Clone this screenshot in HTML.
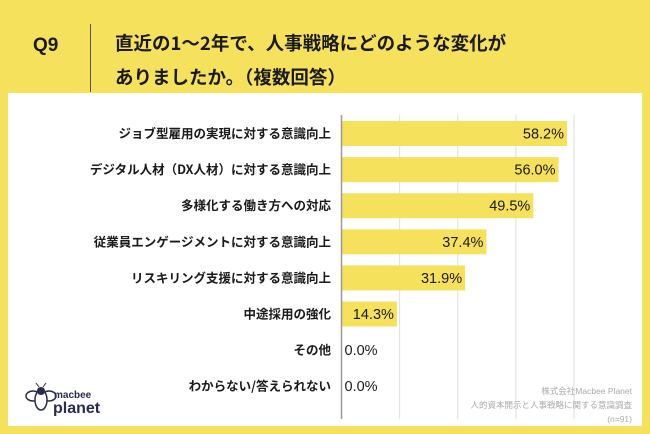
<!DOCTYPE html>
<html><head><meta charset="utf-8">
<style>
html,body{margin:0;padding:0}
body{width:650px;height:434px;background:#f6e15c;position:relative;overflow:hidden;font-family:"Liberation Sans","Noto Sans CJK JP",sans-serif;}
.q{position:absolute;left:33px;top:35px;font-size:19px;font-weight:bold;color:#1a1a1a}
.sep{position:absolute;left:90px;top:24px;width:1px;height:68px;background:#555}
.title{position:absolute;left:115px;top:26px;font-size:18.5px;font-weight:bold;line-height:34px;color:#1a1a1a;font-family:"Noto Sans CJK JP",sans-serif;white-space:nowrap}
.panel{position:absolute;left:8px;top:93px;width:634px;height:333px;background:#fff}
.credit{position:absolute;right:18px;top:384px;text-align:right;font-size:8.5px;color:#aaa;line-height:14px;font-family:"Liberation Sans","Noto Sans CJK JP",sans-serif}
</style></head><body>
<div class="q">Q9</div>
<div class="sep"></div>
<div class="title">直近の1〜2年で、人事戦略にどのような変化が<br>ありましたか。（複数回答）</div>
<div class="panel"></div>
<svg id="chart" width="650" height="434" style="position:absolute;left:0;top:0"></svg>
<div class="credit">株式会社Macbee Planet<br>人的資本開示と人事戦略に関する意識調査<br>(n=91)</div>
<svg width="90" height="34" style="position:absolute;left:24px;top:382px">
  <ellipse cx="9" cy="14" rx="7" ry="5" fill="none" stroke="#2a2d4a" stroke-width="1.5"/>
  <ellipse cx="25" cy="14" rx="7" ry="5" fill="none" stroke="#2a2d4a" stroke-width="1.5"/>
  <ellipse cx="17" cy="18" rx="6" ry="10" fill="#fff" stroke="#2a2d4a" stroke-width="1.5"/>
  <circle cx="17" cy="9" r="4" fill="#2a2d4a"/>
  <line x1="15" y1="5" x2="12" y2="1" stroke="#2a2d4a"/><line x1="19" y1="5" x2="22" y2="1" stroke="#2a2d4a"/>
  <text x="30" y="16" font-size="10" font-weight="bold" fill="#2a2d4a" font-family="Liberation Sans, sans-serif">macbee</text>
  <text x="29" y="31" font-size="16" font-weight="bold" fill="#2a2d4a" font-family="Liberation Sans, sans-serif">planet</text>
</svg>
<script>
const categories=["ジョブ型雇用の実現に対する意識向上","デジタル人材（DX人材）に対する意識向上","多様化する働き方への対応","従業員エンゲージメントに対する意識向上","リスキリング支援に対する意識向上","中途採用の強化","その他","わからない/答えられない"];
const values=[58.2,56.0,49.5,37.4,31.9,14.3,0.0,0.0];
const gridTicks=[15,30,45,60];
const svg=document.getElementById('chart');
const NS='http://www.w3.org/2000/svg';
const x0=341.5, pxPer=3.875, rowTop=121, pitch=36.1, barH=25;
function xs(v){return x0+v*pxPer;}
function yRow(i){return rowTop+i*pitch;}
function mk(t,a){const e=document.createElementNS(NS,t);for(const k in a)e.setAttribute(k,a[k]);svg.appendChild(e);return e;}
gridTicks.forEach(t=>{
  const l=mk('line',{x1:xs(t),x2:xs(t),y1:115,y2:419,stroke:'#dedede','stroke-width':1});
  
  
});
values.forEach((v,i)=>{
  const y=yRow(i);
  const r=mk('rect',{x:x0,y:y,width:v*pxPer,height:barH,fill:'#f6e15c'});
  
  
  const inside=v*pxPer>45;
  const vt=mk('text',{x:inside?xs(v)-3:x0+3,y:y+barH/2+5,'font-size':14.5,'font-family':'Liberation Sans, sans-serif','text-anchor':inside?'end':'start',fill:'#1a1a1a'});
  vt.textContent=v.toFixed(1)+'%';
  
  
  const ct=mk('text',{x:331,y:y+barH/2+4.5,'font-size':12.5,'font-weight':600,'font-family':'Noto Sans CJK JP, sans-serif','text-anchor':'end',fill:'#1a1a1a'});
  ct.textContent=categories[i];
  
  
});
const ax=mk('line',{x1:x0,x2:x0,y1:115,y2:419,stroke:'#999','stroke-width':1.5});


</script>
</body></html>
